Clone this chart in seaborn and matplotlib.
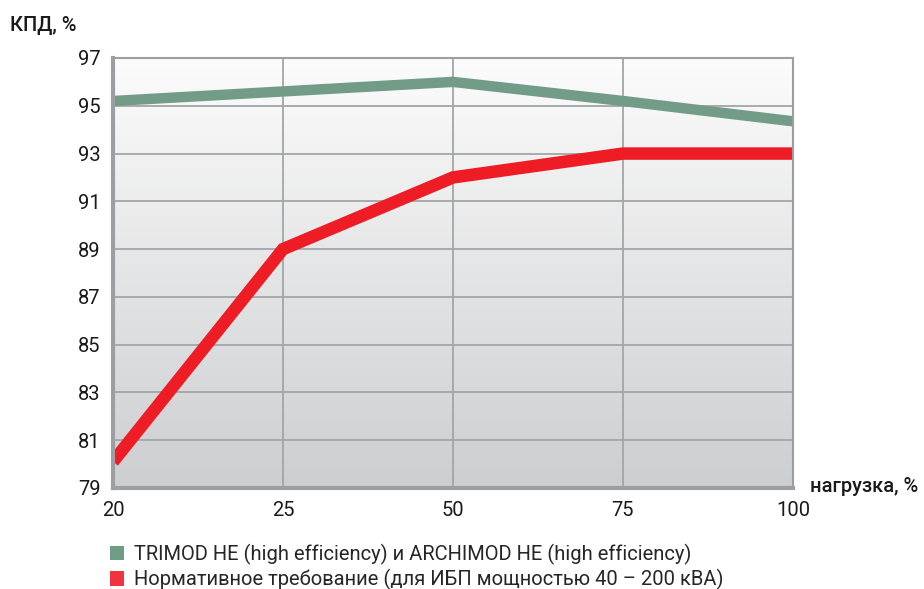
import numpy as np
import pandas as pd
import matplotlib
matplotlib.use("Agg")
import matplotlib.pyplot as plt
import seaborn as sns
from matplotlib.patches import Patch

loads = ["20", "25", "50", "75", "100"]
trimod = [95.2, 95.6, 96.0, 95.2, 94.35]
norm = [80.1, 89.0, 92.0, 93.0, 93.0]
series_names = ["TRIMOD HE (high efficiency) и ARCHIMOD HE (high efficiency)",
                "Нормативное требование (для ИБП мощностью 40 – 200 кВА)"]
y_ticks = [79, 81, 83, 85, 87, 89, 91, 93, 95, 97]

sns.set_style("white")
plt.rcParams['font.family'] = ['Roboto', 'DejaVu Sans']

green = "#729c88"
red = "#ee1c25"
frame = "#9d9ea2"

fig = plt.figure(figsize=(9.24, 5.89), dpi=100)
ax = fig.add_axes([113/924, 1-488/589, (793-113)/924, (488-58)/589])

# gradient background
grad = np.linspace(0, 1, 256).reshape(-1, 1)
cmap = matplotlib.colors.LinearSegmentedColormap.from_list("bg", ["#fcfcfc", "#cdced0"])
ax.imshow(grad, aspect="auto", cmap=cmap, extent=[0, 1, 0, 1],
          transform=ax.transAxes, zorder=0, interpolation="bicubic")

df = pd.DataFrame({
    "load": loads * 2,
    "eff": trimod + norm,
    "series": [series_names[0]] * 5 + [series_names[1]] * 5,
})
df["pos"] = list(range(5)) * 2

sns.lineplot(data=df[df.series == series_names[0]], x="pos", y="eff", color=green,
             lw=7.5, ax=ax, sort=False, zorder=3, legend=False)
sns.lineplot(data=df[df.series == series_names[1]], x="pos", y="eff", color=red,
             lw=9, ax=ax, sort=False, zorder=4, legend=False)
for l in ax.lines:
    l.set_solid_capstyle("butt")
    l.set_solid_joinstyle("miter")

ax.set_xlim(0, 4)
ax.set_ylim(79, 97)
ax.set_xticks(range(5))
ax.set_xticklabels(loads)
ax.set_yticks(y_ticks)
ax.set_yticklabels([str(v) for v in y_ticks])
ax.grid(True, color="#a4a5a8", lw=1.3, zorder=1)
for gl in ax.get_xgridlines() + ax.get_ygridlines():
    gl.set_zorder(1)
ax.set_xlabel("")
ax.set_ylabel("")
for s in ax.spines.values():
    s.set_color(frame)
    s.set_linewidth(1.5)
    s.set_zorder(5)
ax.spines["left"].set_linewidth(3)
ax.spines["bottom"].set_linewidth(3)
ax.tick_params(axis="both", colors=frame, labelcolor="#1a1a1a", labelsize=14.5,
               length=6, width=1.5, direction="out")
ax.tick_params(axis="x", pad=3)
ax.tick_params(axis="y", pad=3)

fig.text(10/924, 1-25/589, "КПД, %", fontsize=14.5, fontweight="medium",
         va="center", ha="left", color="#1a1a1a")
fig.text(810/924, 1-486/589, "нагрузка, %", fontsize=14.5, fontweight="medium",
         va="center", ha="left", color="#1a1a1a")

handles = [Patch(facecolor="#6f9c87", edgecolor="none"),
           Patch(facecolor="#ef3340", edgecolor="none")]
fig.legend(handles, series_names, loc="upper left", bbox_to_anchor=(102/924, 1-536/589),
           frameon=False, fontsize=14.5, handlelength=0.7, handleheight=0.7,
           handletextpad=0.5, labelspacing=0.2, borderaxespad=0)

fig.savefig("out.png", dpi=100)
